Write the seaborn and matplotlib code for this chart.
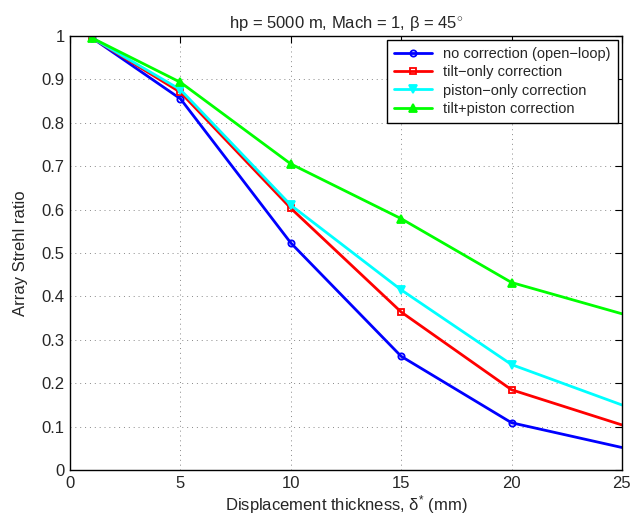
import numpy as np
import pandas as pd
import matplotlib
matplotlib.use('Agg')
import matplotlib.pyplot as plt
import seaborn as sns

# Data
thickness = [1, 5, 10, 15, 20, 25]
no_corr = [0.995, 0.855, 0.523, 0.262, 0.109, 0.052]
tilt_only = [0.995, 0.870, 0.603, 0.364, 0.185, 0.104]
piston_only = [0.995, 0.876, 0.610, 0.415, 0.243, 0.150]
tilt_piston = [0.995, 0.893, 0.705, 0.579, 0.432, 0.360]

labels = ['no correction (open\u2212loop)', 'tilt\u2212only correction',
          'piston\u2212only correction', 'tilt+piston correction']
colors = ['#0000ff', '#ff0000', '#00ffff', '#00ff00']
markers = ['o', 's', 'v', '^']

df = pd.DataFrame({'x': thickness * 4,
                   'y': no_corr + tilt_only + piston_only + tilt_piston,
                   'series': sum([[l] * len(thickness) for l in labels], [])})

sns.set_style('white')
plt.rcParams['font.family'] = ['Liberation Sans', 'DejaVu Sans']
plt.rcParams['mathtext.fontset'] = 'custom'
plt.rcParams['mathtext.rm'] = 'Liberation Sans'
plt.rcParams['mathtext.it'] = 'Liberation Sans'

fig, ax = plt.subplots(figsize=(6.32, 5.2), dpi=100)
fig.subplots_adjust(left=0.111, right=0.984, top=0.931, bottom=0.096)

for lab, col, mk in zip(labels, colors, markers):
    sub = df[df['series'] == lab]
    sns.lineplot(data=sub, x='x', y='y', ax=ax, color=col, linewidth=2,
                 label=lab, marker=mk, markersize=6 if mk in 'v^' else 4.5,
                 markerfacecolor='none' if mk in 'os' else col,
                 markeredgecolor=col, markeredgewidth=1.3,
                 markevery=list(range(len(thickness) - 1)))

ax.set_xlim(0, 25)
ax.set_ylim(0, 1)
ax.set_xticks([0, 5, 10, 15, 20, 25])
ax.set_yticks(np.arange(0, 1.01, 0.1))
ax.set_yticklabels(['0', '0.1', '0.2', '0.3', '0.4', '0.5', '0.6', '0.7', '0.8', '0.9', '1'])
ax.tick_params(direction='in', length=5, labelsize=12, top=True, right=True,
               color='black', pad=4)
ax.grid(True, linestyle=(0, (1, 4)), color='#888888', linewidth=0.7)
for s in ax.spines.values():
    s.set_color('black')
    s.set_linewidth(1)

ax.set_xlabel('Displacement thickness, \u03b4$^{*}$ (mm)', fontsize=12, labelpad=2)
ax.set_ylabel('Array Strehl ratio', fontsize=12, labelpad=10)
ax.set_title('hp = 5000 m, Mach = 1, \u03b2 = 45$^{\\circ}$', fontsize=12)

leg = ax.legend(loc='upper right', fontsize=10.5, frameon=True, fancybox=False,
                edgecolor='black', framealpha=1, borderaxespad=0.3,
                handlelength=2.6, labelspacing=0.3, borderpad=0.45)
leg.get_frame().set_linewidth(1)

fig.savefig('out.png', dpi=100)
